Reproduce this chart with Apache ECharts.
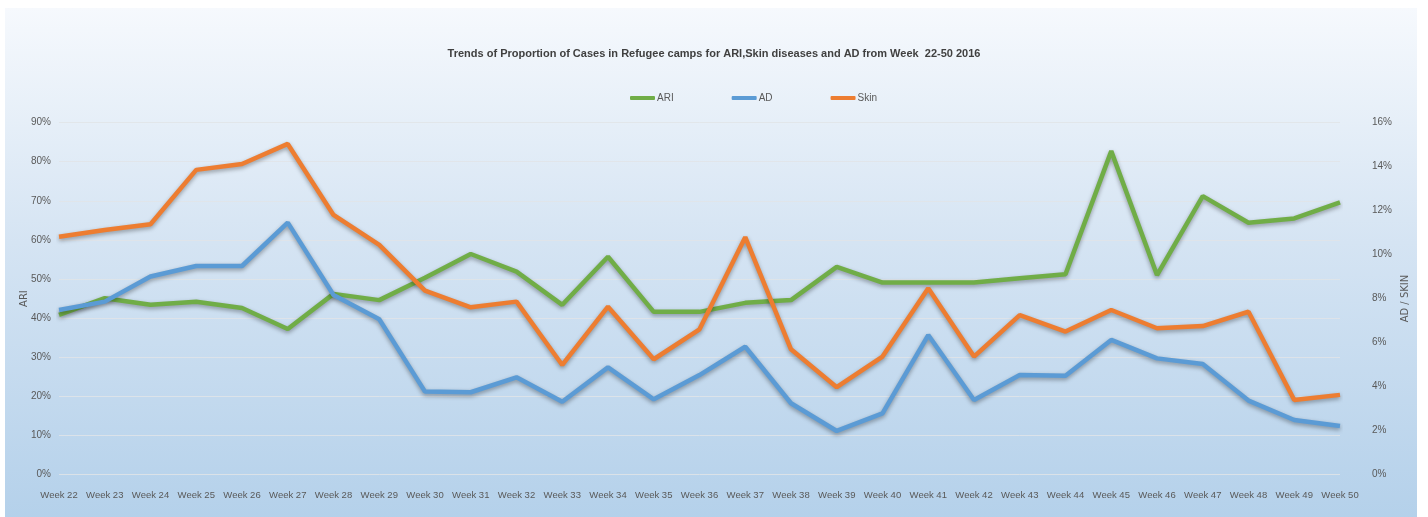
<!DOCTYPE html>
<html>
<head>
<meta charset="utf-8">
<style>
  html, body { margin: 0; padding: 0; background: #ffffff; }
  #chart { width: 1428px; height: 517px; }
</style>
<script src="https://cdn.jsdelivr.net/npm/echarts@6/dist/echarts.min.js"></script>
</head>
<body>
<div id="chart"></div>
<script>
// weeks 22 - 50, 2016
var weeks = [];
for (var w = 22; w <= 50; w++) {
    weeks.push('Week ' + w);
}

// ARI, left axis (%)
var ariData = [40.8, 45.1, 43.4, 44.2, 42.6, 37.2, 46.2, 44.6, 50.3, 56.4,
               51.9, 43.4, 55.7, 41.6, 41.6, 43.9, 44.6, 53.1, 49.1, 49.1,
               49.1, 50.2, 51.2, 82.7, 51.0, 71.2, 64.4, 65.5, 69.6];

// AD, right axis (%)
var adData = [7.48, 7.86, 9.0, 9.48, 9.48, 11.45, 8.16, 7.06, 3.77, 3.74,
              4.42, 3.31, 4.87, 3.42, 4.52, 5.81, 3.24, 1.98, 2.78, 6.34,
              3.39, 4.52, 4.49, 6.12, 5.28, 5.02, 3.36, 2.48, 2.21];

// Skin, right axis (%)
var skinData = [10.81, 11.12, 11.38, 13.85, 14.12, 15.03, 11.8, 10.44, 8.36, 7.6,
                7.86, 4.98, 7.63, 5.24, 6.6, 10.79, 5.69, 3.97, 5.36, 8.47,
                5.36, 7.25, 6.5, 7.48, 6.65, 6.75, 7.4, 3.39, 3.62];

var narrow = '"Liberation Sans Narrow", "Liberation Sans", sans-serif';
var labelColor = '#595959';

function lineSeries(name, color, data, axisIndex) {
    return {
        name: name,
        type: 'line',
        yAxisIndex: axisIndex,
        data: data,
        showSymbol: false,
        symbol: 'none',
        lineStyle: {
            width: 4.5,
            color: color,
            shadowColor: 'rgba(0,0,0,0.35)',
            shadowBlur: 4,
            shadowOffsetY: 2
        },
        itemStyle: { color: color }
    };
}

var option = {
    animation: false,
    graphic: [{
        type: 'rect',
        z: -10,
        silent: true,
        shape: { x: 5, y: 8, width: 1412, height: 520 },
        style: {
            fill: new echarts.graphic.LinearGradient(0, 0, 0, 1, [
                { offset: 0, color: '#f6f9fd' },
                { offset: 0.45, color: '#d5e4f3' },
                { offset: 1, color: '#b3d0ea' }
            ])
        }
    }],
    title: {
        text: 'Trends of Proportion of Cases in Refugee camps for ARI,Skin diseases and AD from Week  22-50 2016',
        left: 'center',
        top: 43,
        textStyle: {
            fontFamily: narrow,
            fontWeight: 'bold',
            fontSize: 11,
            color: '#404040'
        }
    },
    legend: {
        data: ['ARI', 'AD', 'Skin'],
        left: 625,
        top: 88,
        itemWidth: 25,
        itemHeight: 4,
        itemGap: 58,
        icon: 'roundRect',
        textStyle: {
            fontFamily: narrow,
            fontSize: 10,
            color: labelColor,
            padding: [0, 0, 0, -3]
        }
    },
    grid: {
        left: 59,
        right: 88,
        top: 122.6,
        bottom: 42.5,
        containLabel: false
    },
    xAxis: {
        type: 'category',
        data: weeks,
        boundaryGap: false,
        axisLine: { show: false },
        axisTick: { show: false },
        axisLabel: {
            interval: 0,
            margin: 16,
            fontFamily: narrow,
            fontSize: 9.5,
            color: labelColor
        }
    },
    yAxis: [{
        type: 'value',
        min: 0,
        max: 90,
        interval: 10,
        name: 'ARI',
        nameLocation: 'middle',
        nameGap: 30,
        nameRotate: 90,
        nameMoveOverlap: false,
        nameTextStyle: {
            fontFamily: '"DejaVu Sans", sans-serif',
            fontSize: 10,
            color: labelColor
        },
        axisLine: { show: false },
        axisTick: { show: false },
        axisLabel: {
            formatter: '{value}%',
            margin: 8,
            fontFamily: narrow,
            fontSize: 10,
            color: labelColor
        },
        splitLine: {
            lineStyle: { color: 'rgba(225,228,232,0.85)', width: 1 }
        }
    }, {
        type: 'value',
        min: 0,
        max: 16,
        interval: 2,
        position: 'right',
        name: 'AD / SKIN',
        nameLocation: 'middle',
        nameGap: 60,
        nameRotate: 90,
        nameMoveOverlap: false,
        nameTextStyle: {
            fontFamily: '"DejaVu Sans", sans-serif',
            fontSize: 10,
            color: labelColor
        },
        axisLine: { show: false },
        axisTick: { show: false },
        axisLabel: {
            formatter: '{value}%',
            margin: 32,
            fontFamily: narrow,
            fontSize: 10,
            color: labelColor
        },
        splitLine: { show: false }
    }],
    series: [
        lineSeries('ARI', '#70ad47', ariData, 0),
        lineSeries('AD', '#5b9bd5', adData, 1),
        lineSeries('Skin', '#ed7d31', skinData, 1)
    ]
};

var chart = echarts.init(document.getElementById('chart'));
chart.setOption(option);
</script>
</body>
</html>
